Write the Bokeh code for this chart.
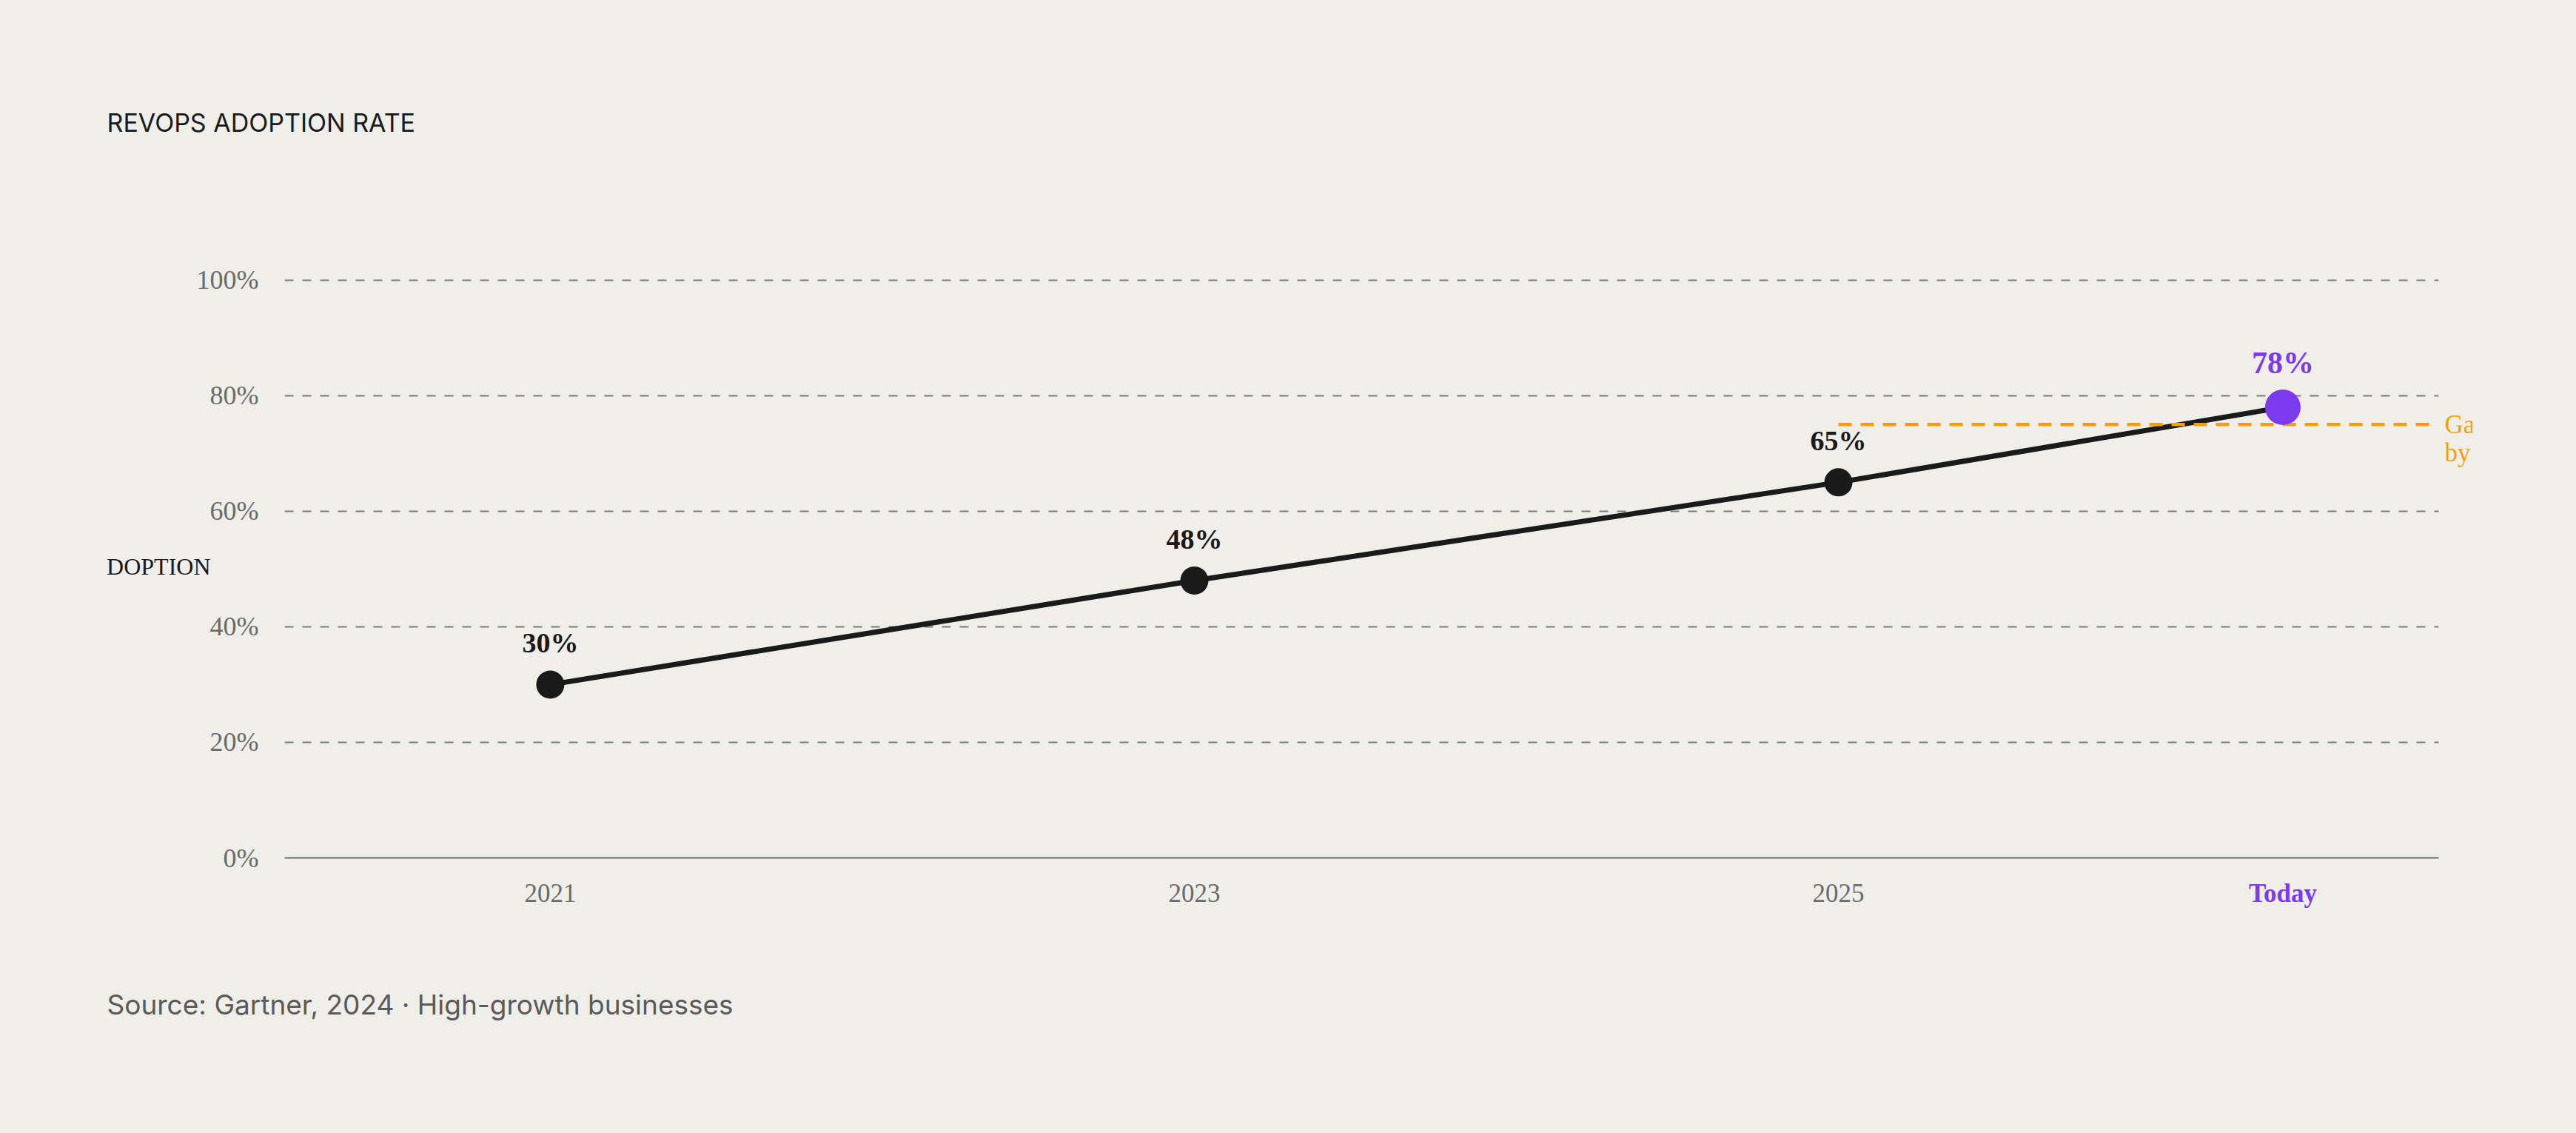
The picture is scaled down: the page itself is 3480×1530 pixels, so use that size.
from bokeh.plotting import figure
from bokeh.models import (FixedTicker, PrintfTickFormatter, Range1d, Spacer, Title,
                          LinearAxis, GlobalInlineStyleSheet)
from bokeh.layouts import row
from bokeh.core.properties import value
from bokeh.embed import file_html
from bokeh.resources import INLINE

# data
years = [2021, 2023, 2025]
year_labels = ["2021", "2023", "2025"]
rates = [30, 48, 65]
today_x = 2026.38
today_rate = 78
today_label = "Today"
target_rate = 75
target_start = 2025
target_end = 2026.84
target_note = ["Gartner target", "by 2026"]
y_ticks = [0, 20, 40, 60, 80, 100]

BG = "#efeee9"
INK = "#1a1a1a"
PURPLE = "#7c3aed"
ORANGE = "#f59e0b"
GREY = "#6b6b6b"
SERIF = "Liberation Serif"
SANS = "Inter"

fig = figure(width=3430, height=1520, output_backend="svg", toolbar_location=None,
             x_range=Range1d(2020.175, 2026.864), y_range=Range1d(0, 101),
             min_border_left=290, min_border_right=230,
             min_border_top=370, min_border_bottom=362,
             background_fill_color=BG, border_fill_color=BG, outline_line_color=None)
# the page cuts the side texts off, as in the original layout
fig.styles = {"clip-path": "inset(0px 184px 0px 50px)"}

# empty title panel: keeps the heading well above the grid
fig.add_layout(Title(text=" ", standoff=176, text_font_size="2px"), "above")
fig.add_layout(Title(text="REVOPS ADOPTION RATE", align="left", offset=-240, standoff=10,
                     text_font=SANS, text_font_size="34px", text_font_style="normal",
                     text_color=INK), "above")

# grid
fig.xgrid.visible = False
fig.ygrid.ticker = FixedTicker(ticks=y_ticks)
fig.ygrid.grid_line_color = "#7a7a7a"
fig.ygrid.grid_line_width = 2
fig.ygrid.grid_line_dash = "12 12"

# y axis
fig.yaxis.ticker = FixedTicker(ticks=y_ticks)
fig.yaxis.formatter = PrintfTickFormatter(format="%d%%")
fig.yaxis.axis_line_color = None
fig.yaxis.major_tick_line_color = None
fig.yaxis.minor_tick_line_color = None
fig.yaxis.major_label_standoff = 29
fig.yaxis.major_label_text_font = SERIF
fig.yaxis.major_label_text_font_size = "36px"
fig.yaxis.major_label_text_color = GREY
fig.yaxis.axis_label = "ADOPTION"
fig.yaxis.axis_label_orientation = "horizontal"
fig.yaxis.axis_label_standoff = -22
fig.yaxis.axis_label_text_font = SERIF
fig.yaxis.axis_label_text_font_style = "normal"
fig.yaxis.axis_label_text_font_size = "32px"
fig.yaxis.axis_label_text_color = INK

# x axis
fig.xaxis.ticker = FixedTicker(ticks=years)
fig.xaxis.major_label_overrides = dict(zip(years, year_labels))
fig.xaxis.axis_line_color = GREY
fig.xaxis.axis_line_width = 2
fig.xaxis.major_tick_line_color = None
fig.xaxis.minor_tick_line_color = None
fig.xaxis.major_label_standoff = 29
fig.xaxis.major_label_text_font = SERIF
fig.xaxis.major_label_text_font_size = "35px"
fig.xaxis.major_label_text_color = GREY

# "Today" tick, drawn on the same line as the year ticks
today_axis = LinearAxis(ticker=FixedTicker(ticks=[today_x]),
                        major_label_overrides={today_x: today_label},
                        axis_line_color=None, major_tick_line_color=None,
                        minor_tick_line_color=None, major_label_standoff=-40,
                        major_label_text_font=SERIF, major_label_text_font_style="bold",
                        major_label_text_font_size="35px", major_label_text_color=PURPLE)
fig.add_layout(today_axis, "below")

# target note on the right
line_gap = 38 / 7.8
note_ticks = [target_rate, target_rate - line_gap]
note_axis = LinearAxis(ticker=FixedTicker(ticks=note_ticks),
                       major_label_overrides=dict(zip(note_ticks, target_note)),
                       axis_line_color=None, major_tick_line_color=None,
                       minor_tick_line_color=None, major_label_standoff=2,
                       major_label_text_font=SERIF, major_label_text_font_size="35px",
                       major_label_text_color=ORANGE)
fig.add_layout(note_axis, "right")

fig.add_layout(Title(text="Source: Gartner, 2024 · High-growth businesses", align="left",
                     offset=-240, standoff=206, text_font=SANS, text_font_size="37px",
                     text_font_style="normal", text_color="#5a5a5a"), "below")

# series
fig.line(years + [today_x], rates + [today_rate], line_width=7, line_color=INK)
fig.segment(x0=[target_start], y0=[target_rate], x1=[target_end], y1=[target_rate],
            line_color=ORANGE, line_width=4.5, line_dash="18 12")
fig.scatter(years, rates, size=38, fill_color=INK, line_color=None)
fig.scatter([today_x], [today_rate], size=48, fill_color=PURPLE, line_color=None)

fig.text(years, rates, text=[f"{r}%" for r in rates], y_offset=-56,
         text_align="center", text_baseline="alphabetic",
         text_font=value(SERIF), text_font_style="bold", text_font_size="38px",
         text_color=INK)
fig.text([today_x], [today_rate], text=[f"{today_rate}%"], y_offset=-60,
         text_align="center", text_baseline="alphabetic",
         text_font=value(SERIF), text_font_style="bold", text_font_size="42px",
         text_color=PURPLE)

page_css = GlobalInlineStyleSheet(
    css=f"html, body {{ background: {BG}; margin: 0; padding: 0; overflow: hidden; }}")
p = row(Spacer(width=94, height=1520), fig, stylesheets=[page_css])

open("out.html", "w").write(file_html(p, INLINE))
